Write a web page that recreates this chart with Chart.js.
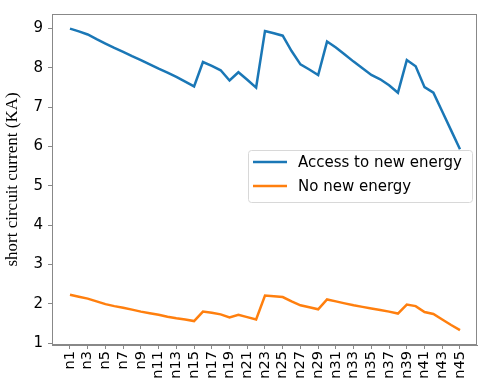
<!DOCTYPE html>
<html>
<head>
<meta charset="utf-8">
<script src="https://cdn.jsdelivr.net/npm/chart.js@4/dist/chart.umd.min.js"></script>
<style>
html,body{margin:0;padding:0;background:#fff;}
#wrap{width:484px;height:385px;position:relative;}
</style>
</head>
<body>
<div id="wrap"><canvas id="c" width="484" height="385"></canvas></div>
<script>
const categories = ["n1","n2","n3","n4","n5","n6","n7","n8","n9","n10","n11","n12","n13","n14","n15","n16","n17","n18","n19","n20","n21","n22","n23","n24","n25","n26","n27","n28","n29","n30","n31","n32","n33","n34","n35","n36","n37","n38","n39","n40","n41","n42","n43","n44","n45"];
const accessNewEnergy = [9.00,8.93,8.85,8.73,8.62,8.51,8.41,8.30,8.20,8.09,7.98,7.88,7.77,7.65,7.53,8.15,8.05,7.94,7.68,7.89,7.70,7.50,8.94,8.88,8.82,8.43,8.09,7.96,7.82,8.67,8.52,8.34,8.16,7.99,7.82,7.71,7.56,7.37,8.20,8.04,7.51,7.37,6.89,6.41,5.93];
const noNewEnergy = [2.23,2.18,2.13,2.06,1.99,1.94,1.90,1.85,1.80,1.76,1.72,1.67,1.63,1.60,1.56,1.80,1.77,1.73,1.65,1.72,1.66,1.60,2.21,2.19,2.17,2.06,1.96,1.91,1.86,2.11,2.06,2.01,1.96,1.92,1.88,1.84,1.80,1.75,1.98,1.94,1.79,1.74,1.60,1.46,1.33];
const seriesNames = ["Access to new energy","No new energy"];
const yTicks = [1,2,3,4,5,6,7,8,9];
const xTickIdx = categories.map((c,i)=>i).filter(i=>i%2===0);
const yTitle = "short circuit current (KA)";

const colors = ["#1a77b6","#ff7f0e"];
const AX = "#888";

const boxPlugin = {
  id:'box',
  afterDatasetsDraw(chart){
    const {ctx, chartArea:a} = chart;
    ctx.save();
    ctx.strokeStyle = AX; ctx.lineWidth = 1;
    ctx.strokeRect(a.left+0.5, a.top+0.5, a.right-a.left-1, a.bottom-a.top-1);
    ctx.restore();
  },
  afterDraw(chart){
    const {ctx, chartArea:a} = chart;
    const w = 224, h = 52;
    const x0 = a.right - 5 - w, y0 = 150;
    ctx.save();
    ctx.fillStyle = "rgba(255,255,255,0.85)";
    ctx.strokeStyle = "#d8d8d8"; ctx.lineWidth = 1;
    const r = 3;
    ctx.beginPath();
    ctx.moveTo(x0+r+0.5,y0+0.5);
    ctx.arcTo(x0+w+0.5,y0+0.5,x0+w+0.5,y0+h+0.5,r);
    ctx.arcTo(x0+w+0.5,y0+h+0.5,x0+0.5,y0+h+0.5,r);
    ctx.arcTo(x0+0.5,y0+h+0.5,x0+0.5,y0+0.5,r);
    ctx.arcTo(x0+0.5,y0+0.5,x0+w+0.5,y0+0.5,r);
    ctx.closePath(); ctx.fill(); ctx.stroke();
    ctx.font = "15px 'DejaVu Sans'";
    ctx.textBaseline = "middle";
    chart.data.datasets.forEach((ds,i)=>{
      const yy = y0 + 12 + i*24;
      ctx.strokeStyle = ds.borderColor; ctx.lineWidth = 2.5;
      ctx.beginPath(); ctx.moveTo(x0+5,yy); ctx.lineTo(x0+39,yy); ctx.stroke();
      ctx.fillStyle = "#000";
      ctx.fillText(ds.label, x0+50, yy+1);
    });
    ctx.restore();
  }
};

new Chart(document.getElementById('c'), {
  type:'line',
  data:{
    datasets:[
      {label:seriesNames[0], data:accessNewEnergy.map((v,i)=>({x:i,y:v})), borderColor:colors[0], backgroundColor:colors[0], borderWidth:2.5, pointRadius:0, tension:0, fill:false},
      {label:seriesNames[1], data:noNewEnergy.map((v,i)=>({x:i,y:v})), borderColor:colors[1], backgroundColor:colors[1], borderWidth:2.5, pointRadius:0, tension:0, fill:false}
    ]
  },
  options:{
    responsive:false, animation:false, devicePixelRatio:1,
    layout:{padding:{top:5,right:7,left:0,bottom:0}},
    plugins:{legend:{display:false}, tooltip:{enabled:false}},
    scales:{
      x:{
        type:'linear', min:-2.03, max:45.92,
        afterBuildTicks(s){ s.ticks = xTickIdx.map(v=>({value:v})); },
        afterFit(s){ s.height = 40; },
        grid:{drawOnChartArea:false, drawTicks:true, tickLength:4, color:AX},
        border:{display:true, color:AX},
        ticks:{autoSkip:false, maxRotation:90, minRotation:90, padding:2, color:'#000',
          font:{family:"'DejaVu Sans'", size:14.5},
          callback:(v)=>categories[v]}
      },
      y:{
        min:0.9505, max:9.3715,
        afterBuildTicks(s){ s.ticks = yTicks.map(v=>({value:v})); },
        afterFit(s){ s.width = 52; },
        grid:{drawOnChartArea:false, drawTicks:true, tickLength:4, color:AX},
        border:{display:true, color:AX},
        ticks:{padding:5, color:'#000', font:{family:"'DejaVu Sans'", size:15}},
        title:{display:true, text:yTitle, color:'#000', padding:{top:2,bottom:0},
          font:{family:"'Liberation Serif'", size:17}}
      }
    }
  },
  plugins:[boxPlugin]
});
</script>
</body>
</html>
